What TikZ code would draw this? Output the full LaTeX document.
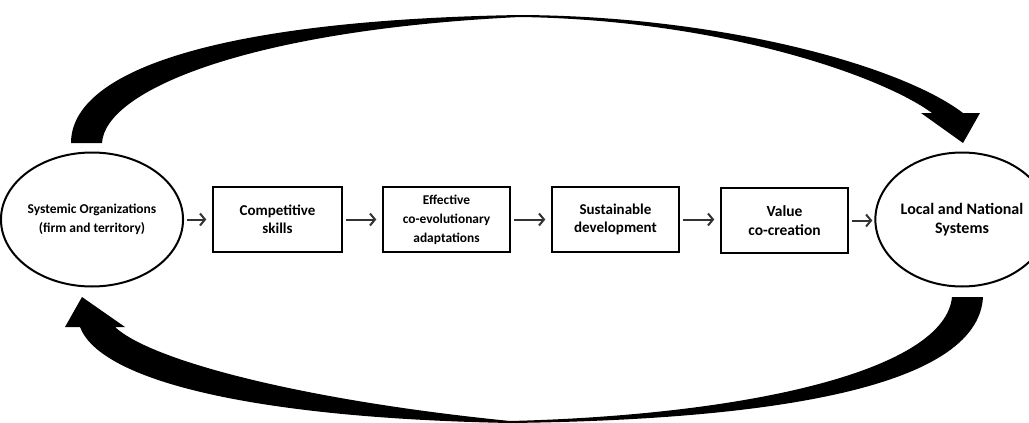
\documentclass[tikz,border=0pt]{standalone}
\usepackage{fontspec}
\setmainfont{Carlito}
\usetikzlibrary{shapes.geometric,arrows.meta}
\begin{document}
\begin{tikzpicture}[x=1pt,y=-1pt,
  btxt/.style={font=\fontsize{#1}{18.5}\selectfont\bfseries, align=center, text=black},
  oval/.style={ellipse, draw=black, line width=2pt, minimum width=160pt, minimum height=134pt, inner sep=0pt},
  stepbox/.style={rectangle, draw=black, line width=1.4pt, minimum width=127pt, minimum height=65pt, inner sep=2pt},
  flow/.style={draw=black!80, line width=2pt, -{Straight Barb[length=5pt,width=12pt,line width=2pt]}},
  bigarrow/.style={fill=black, draw=none}]
\useasboundingbox (0,0) rectangle (1029,423);
\clip (0,0) rectangle (1029,423);
\node[oval, btxt=13.5] (sys) at (92,219.5) {Systemic Organizations\\(firm and territory)};
\node[oval, btxt=16] (loc) at (962,219.5) {Local and National\\Systems};
\node[stepbox, btxt=15, minimum width=129pt] (comp) at (277.5,219.5) {Competitive\\skills};
\node[stepbox, font=\fontsize{13.4}{19}\selectfont\bfseries, align=center] (eff) at (446.5,219.5) {Effective\\co-evolutionary\\adaptations};
\node[stepbox, btxt=15] (sus) at (615.5,219.5) {Sustainable\\development};
\node[stepbox, btxt=15.5] (val) at (784.5,220.5) {Value\\co-creation};
% small connectors
\draw[flow] ([xshift=3pt]sys.east) -- ([xshift=-6pt]comp.west);
\draw[flow] ([xshift=3pt]comp.east) -- ([xshift=-6pt]eff.west);
\draw[flow] ([xshift=3pt]eff.east) -- ([xshift=-6pt]sus.west);
\draw[flow] ([xshift=3pt]sus.east) -- ([xshift=-6pt]sus.east -| val.west);
\draw[flow] ([xshift=3pt]val.east) -- ([xshift=-2pt]val.east -| loc.west);
% top tapered arrow (sys -> loc)
\fill[bigarrow] (71,143) .. controls (71,70) and (220,20) .. (520,15)
  .. controls (720,16) and (900,65) .. (963,113)
  -- (980,113) -- (963,143) -- (921,113) -- (932,113)
  .. controls (880,75) and (720,20) .. (520,17)
  .. controls (250,30) and (105,90) .. (102,143) -- cycle;
% bottom tapered arrow (loc -> sys)
\fill[bigarrow] (983,297) .. controls (978,390) and (760,420) .. (510,423)
  .. controls (250,418) and (100,380) .. (80,327)
  -- (65,327) -- (82,297) -- (125,327) -- (115,327)
  .. controls (150,360) and (300,400) .. (510,421)
  .. controls (750,415) and (945,370) .. (952,297) -- cycle;
\end{tikzpicture}
\end{document}
